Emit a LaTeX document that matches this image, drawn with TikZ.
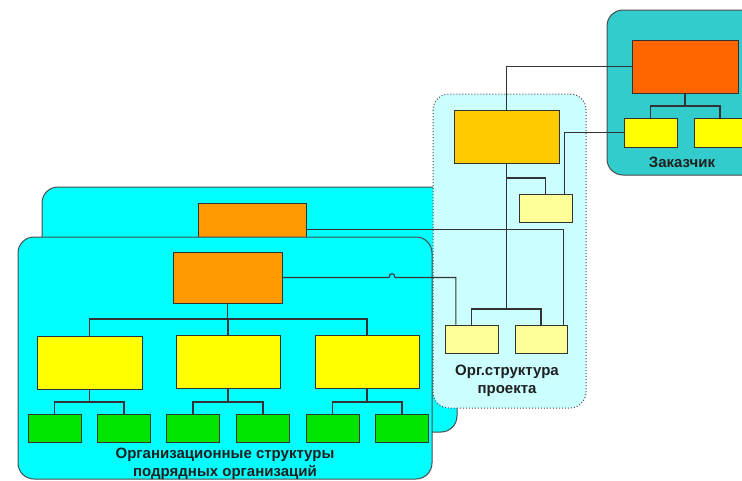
\documentclass[tikz,border=0pt]{standalone}
\usepackage{fontspec}
\setmainfont{Liberation Sans}
\usetikzlibrary{calc}
\definecolor{ln}{HTML}{333333}
\definecolor{pnl}{HTML}{4A4A4A}
\definecolor{cyanA}{HTML}{00FFFF}
\definecolor{cyanL}{HTML}{CCFFFF}
\definecolor{teal}{HTML}{33CCCC}
\definecolor{redO}{HTML}{FF6600}
\definecolor{orgA}{HTML}{FF9900}
\definecolor{gold}{HTML}{FFCC00}
\definecolor{yel}{HTML}{FFFF00}
\definecolor{ltyel}{HTML}{FFFF99}
\definecolor{grn}{HTML}{00E600}
\tikzset{
  box/.style={draw=ln, line width=1pt, inner sep=0pt, rectangle},
  panel/.style={draw=pnl, line width=1pt, rounded corners=16pt},
  conn/.style={draw=ln, line width=1.1pt},
  lbl/.style={font=\fontsize{15}{18}\selectfont\bfseries, text=black!88, align=center, inner sep=0pt}
}
\begin{document}
\begin{tikzpicture}[x=1pt,y=-1pt]
\useasboundingbox (0,0) rectangle (742,480);
\clip (0,0) rectangle (742,480);
\fill[white] (0,0) rectangle (742,480);

% customer panel
\draw[panel, fill=teal] (607,10) rectangle (775,175);
\node[box, fill=redO, minimum width=106pt, minimum height=53pt] (zTop) at (685,66.5) {};
\node[box, fill=yel, minimum width=53pt, minimum height=29pt] (zL) at (650.5,132.5) {};
\node[box, fill=yel, minimum width=52pt, minimum height=29pt] (zR) at (720,132.5) {};
\node[lbl] (zLab) at (682,162) {Заказчик};

% back contractor panel
\draw[panel, fill=cyanA] (42,187) rectangle (457,432);
\node[box, fill=orgA, minimum width=108pt, minimum height=53pt] (bTop) at (252,229.5) {};

% project panel
\draw[draw=pnl, line width=1pt, dotted, rounded corners=16pt, fill=cyanL] (433,94) rectangle (586,408);
\node[box, fill=gold, minimum width=105pt, minimum height=53pt] (pTop) at (506.5,136.5) {};
\node[box, fill=ltyel, minimum width=53pt, minimum height=28pt] (pMid) at (545.5,208) {};
\node[box, fill=ltyel, minimum width=53pt, minimum height=28pt] (pL) at (471.5,339) {};
\node[box, fill=ltyel, minimum width=52pt, minimum height=28pt] (pR) at (541,339) {};
\node[lbl] (pLab) at (507,381) {Орг.структура\\проекта};

% front contractor panel
\draw[panel, fill=cyanA] (18,237) rectangle (432,479);
\node[box, fill=orgA, minimum width=109pt, minimum height=51pt] (fTop) at (227.5,277.5) {};
\node[box, fill=yel, minimum width=105pt, minimum height=53pt] (y1) at (89.5,362.5) {};
\node[box, fill=yel, minimum width=104pt, minimum height=53pt] (y2) at (228,362) {};
\node[box, fill=yel, minimum width=104pt, minimum height=53pt] (y3) at (367,362) {};
\foreach \n/\x in {g1/54.5,g2/124,g3/193,g4/263,g5/332.5,g6/402}{
  \node[box, fill=grn, minimum width=53pt, minimum height=28pt] (\n) at (\x,428) {};
}
\node[lbl] (fLab) at (225,464) {Организационные структуры\\подрядных организаций};

% connectors: front tree
\draw[conn] (fTop.south) -- (fTop.south |- 0,319);
\draw[conn] (y1.north) -- (y1.north |- 0,319) -- (y3.north |- 0,319) -- (y3.north);
\draw[conn] (y2.north) -- (y2.north |- 0,319);
\draw[conn] (y1.south) -- (y1.south |- 0,402);
\draw[conn] (g1.north) -- (g1.north |- 0,402) -- (g2.north |- 0,402) -- (g2.north);
\draw[conn] (y2.south) -- (y2.south |- 0,402);
\draw[conn] (g3.north) -- (g3.north |- 0,402) -- (g4.north |- 0,402) -- (g4.north);
\draw[conn] (y3.south) -- (y3.south |- 0,402);
\draw[conn] (g5.north) -- (g5.north |- 0,402) -- (g6.north |- 0,402) -- (g6.north);

% customer tree
\draw[conn] (zTop.south) -- (zTop.south |- 0,106);
\draw[conn] (zL.north) -- (zL.north |- 0,106) -- (zR.north |- 0,106) -- (zR.north);

% project tree
\draw[conn] (zTop.west) -| (pTop.north);
\draw[conn] (pTop.south) -- (pTop.south |- 0,309);
\draw[conn] (pTop.south |- 0,178) -| (pMid.north);
\draw[conn] (pL.north) -- (pL.north |- 0,309) -- (pR.north |- 0,309) -- (pR.north);
\coordinate (pMidR) at ($(pMid.north west)!0.85!(pMid.north east)$);
\draw[conn] (zL.west) -| (pMidR);
\coordinate (pRR) at ($(pR.north west)!0.92!(pR.north east)$);
\draw[conn] (bTop.east) -| (pRR);
\coordinate (pLL) at ($(pL.north west)!0.21!(pL.north east)$);
\draw[conn] (fTop.east) -- (fTop.east -| 389,0)
  .. controls (389,272.5) and (395,272.5) .. (fTop.east -| 395,0) -| (pLL);
\end{tikzpicture}
\end{document}
